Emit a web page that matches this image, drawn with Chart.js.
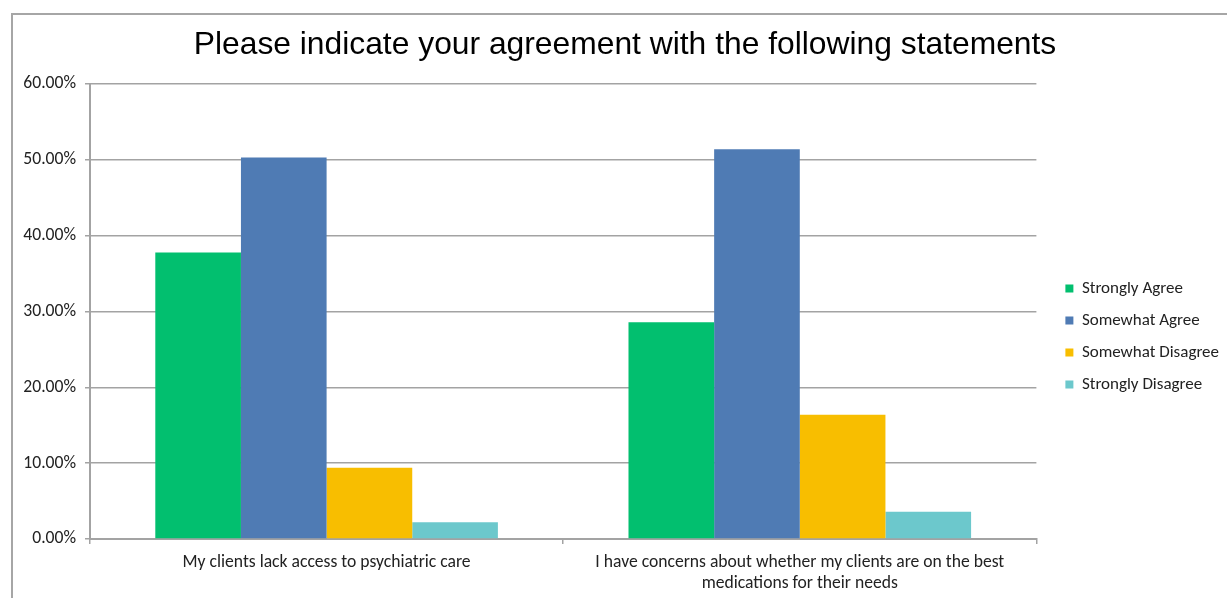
<!DOCTYPE html>
<html>
<head>
<meta charset="utf-8">
<script src="https://cdn.jsdelivr.net/npm/chart.js@4.4.1/dist/chart.umd.min.js"></script>
<style>
  html, body { margin: 0; padding: 0; background: #fff; overflow: hidden; }
  #frame {
    position: absolute; left: 11px; top: 13px;
    width: 1240px; height: 600px;
    border: 2px solid #a6a6a6;
  }
  #wrap { position: absolute; left: 0; top: 0; width: 1224px; height: 583px; }
</style>
</head>
<body>
<div id="frame">
  <div id="wrap"><canvas id="agreeChart"></canvas></div>
</div>
<script>
const categories = [
  'My clients lack access to psychiatric care',
  ['I have concerns about whether my clients are on the best', 'medications for their needs']
];
const seriesNames = ['Strongly Agree', 'Somewhat Agree', 'Somewhat Disagree', 'Strongly Disagree'];
const stronglyAgree = [37.8, 28.6];
const somewhatAgree = [50.3, 51.4];
const somewhatDisagree = [9.4, 16.4];
const stronglyDisagree = [2.2, 3.6];
const yTicks = [0, 10, 20, 30, 40, 50, 60];

const colors = ['#02bf6f', '#4f7bb4', '#f8be00', '#6cc8cc'];
const values = [stronglyAgree, somewhatAgree, somewhatDisagree, stronglyDisagree];
const labelFont = "Carlito, Lato, 'Open Sans', sans-serif";
const labelSize = 17.6;
const gridColor = '#a3a3a3';

// title centred on the whole canvas; legend a little lower and further right
const blockShift = {
  id: 'blockShift',
  afterLayout(chart) {
    const t = chart.titleBlock;
    if (t) {
      const d = chart.width / 2 - (t.left + t.right) / 2;
      t.left += d; t.right += d;
    }
    const lg = chart.legend;
    if (lg) {
      const dx = chart.chartArea.right + 29 - (lg.left + lg.options.labels.padding);
      const dy = 30;
      lg.left += dx; lg.right += dx;
      lg.top += dy; lg.bottom += dy;
    }
  }
};

const ctx = document.getElementById('agreeChart').getContext('2d');
new Chart(ctx, {
  type: 'bar',
  data: {
    labels: categories,
    datasets: seriesNames.map((name, i) => ({
      label: name,
      data: values[i],
      backgroundColor: colors[i],
      borderWidth: 0,
      barPercentage: 1,
      categoryPercentage: 0.724
    }))
  },
  plugins: [blockShift],
  options: {
    responsive: true,
    maintainAspectRatio: false,
    animation: false,
    layout: { padding: { left: 0, right: 22, top: 0, bottom: 0 } },
    plugins: {
      title: {
        display: true,
        text: 'Please indicate your agreement with the following statements',
        color: '#000',
        font: { family: "'Liberation Sans', Arial, sans-serif", size: 31.8, weight: 'normal' },
        padding: { top: 10.9, bottom: 20 }
      },
      legend: {
        position: 'right',
        labels: {
          boxWidth: 8,
          boxHeight: 8,
          padding: 15,
          color: '#222',
          font: { family: labelFont, size: 17 }
        }
      },
      tooltip: { enabled: false }
    },
    scales: {
      x: {
        grid: {
          drawOnChartArea: false,
          drawTicks: true,
          tickLength: 5,
          color: gridColor,
          lineWidth: 1.5
        },
        border: { color: gridColor, width: 2 },
        ticks: {
          color: '#222',
          padding: 8,
          maxRotation: 0,
          autoSkip: false,
          font: { family: labelFont, size: labelSize, lineHeight: 1.2 }
        },
        afterFit(scale) { scale.height = 59; }
      },
      y: {
        min: 0,
        max: 60,
        afterBuildTicks(scale) { scale.ticks = yTicks.map(v => ({ value: v })); },
        grid: { color: gridColor, lineWidth: 1.5, tickLength: 5 },
        border: { color: gridColor, width: 2 },
        ticks: {
          color: '#222',
          padding: 9,
          font: { family: labelFont, size: labelSize },
          callback: v => v.toFixed(2) + '%'
        },
        afterFit(scale) { scale.width = 77; }
      }
    }
  }
});
</script>
</body>
</html>
